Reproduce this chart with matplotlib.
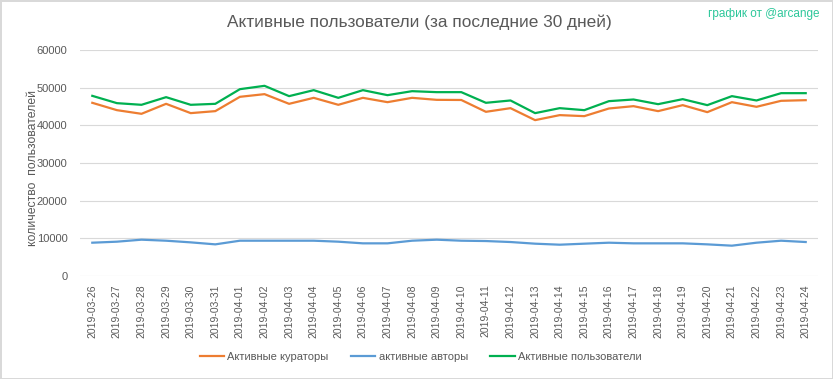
import pandas as pd
import matplotlib.pyplot as plt

dates = pd.date_range('2019-03-26', '2019-04-24').strftime('%Y-%m-%d').tolist()

curators = [45980, 44030, 43060, 45710, 43240, 43770, 47570, 48280, 45710, 47300,
            45450, 47300, 46150, 47300, 46770, 46730, 43590, 44560, 41380, 42710,
            42440, 44470, 45090, 43770, 45360, 43500, 46150, 44920, 46510, 46680]
authors = [8840, 9110, 9640, 9370, 8930, 8400, 9370, 9370, 9370, 9370,
           9110, 8670, 8670, 9370, 9640, 9370, 9280, 9020, 8580, 8310,
           8580, 8840, 8670, 8670, 8670, 8400, 8050, 8840, 9370, 9020]
users = [47830, 45890, 45450, 47480, 45450, 45710, 49600, 50490, 47750, 49340,
         47300, 49340, 48010, 49070, 48810, 48810, 45980, 46600, 43240, 44560,
         44030, 46420, 46860, 45620, 46950, 45360, 47750, 46600, 48540, 48540]

plt.rcParams['font.family'] = ['Liberation Sans', 'DejaVu Sans']
grey = '#595959'

fig = plt.figure(figsize=(8.33, 3.79), dpi=100)
fig.patch.set_edgecolor('#d9d9d9')
fig.patch.set_linewidth(1)
ax = fig.add_axes([80 / 833, 1 - 276 / 379, 738 / 833, 226 / 379])

x = range(len(dates))
ax.plot(x, curators, color='#ED7D31', lw=1.6, label='Активные кураторы')
ax.plot(x, authors, color='#5B9BD5', lw=1.6, label='активные авторы')
ax.plot(x, users, color='#00B050', lw=1.6, label='Активные пользователи')

ax.set_xlim(-0.5, len(dates) - 0.5)
ax.set_ylim(0, 60000)
ax.set_yticks(range(0, 60001, 10000))
ax.set_xticks(list(x))
ax.set_xticklabels(dates, rotation=90, fontsize=7.5, color=grey)
ax.tick_params(axis='y', labelsize=8, labelcolor=grey, length=0, pad=9)
ax.tick_params(axis='x', length=0, pad=6)
ax.grid(axis='y', color='#d9d9d9', lw=0.8)
ax.set_axisbelow(True)
for s in ax.spines.values():
    s.set_visible(False)

ax.set_ylabel('количество  пользователей', fontsize=8.8, color=grey)
ax.yaxis.set_label_coords(-0.055, 0.48)

fig.text(0.503, 1 - 22 / 379, 'Активные пользователи (за последние 30 дней)',
         ha='center', va='center', fontsize=12.4, color=grey)
fig.text(820 / 833, 1 - 14 / 379, 'график от @arcange', ha='right', va='center',
         fontsize=8.5, color='#2cc79a')

fig.legend(loc='center', bbox_to_anchor=(0.505, 1 - 357 / 379), ncol=3, frameon=False,
           fontsize=8, labelcolor=grey, handlelength=2.2, handletextpad=0.3,
           columnspacing=2.0)

fig.savefig('out.png', dpi=100)
